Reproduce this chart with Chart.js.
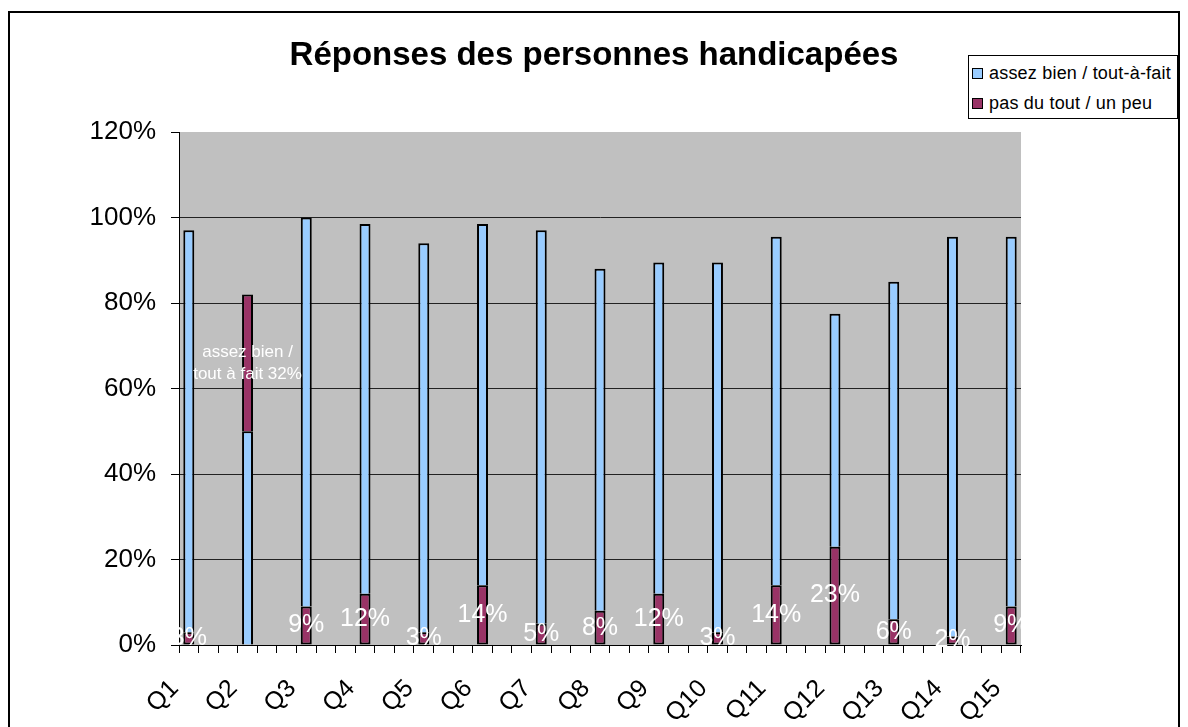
<!DOCTYPE html>
<html><head><meta charset="utf-8">
<script src="https://cdn.jsdelivr.net/npm/chart.js@4"></script>
<style>
html,body{margin:0;padding:0;background:#fff;overflow:hidden;}
#wrap{position:relative;width:1188px;height:727px;overflow:hidden;}
#frame{position:absolute;left:8px;top:11px;width:1172px;height:800px;border:2px solid #000;box-sizing:border-box;}
#c{position:absolute;left:0;top:0;}
#legend{position:absolute;left:968px;top:55px;width:210px;height:64px;border:1px solid #000;background:#fff;box-sizing:border-box;
  font-family:"Liberation Sans",Arial,sans-serif;font-size:18px;color:#000;}
#legend .row{position:absolute;left:3px;height:20px;line-height:20px;white-space:nowrap;letter-spacing:0.2px;}
#legend .sw{display:inline-block;width:9px;height:9px;border:1px solid #000;vertical-align:middle;margin-right:6px;position:relative;top:-1px;}
</style></head>
<body>
<div id="wrap">
  <div id="frame"></div>
  <canvas id="c" width="1188" height="727"></canvas>
  <div id="legend"></div>
</div>
<script>
// ---- data ----
const questions = ['Q1','Q2','Q3','Q4','Q5','Q6','Q7','Q8','Q9','Q10','Q11','Q12','Q13','Q14','Q15'];
const pasDuTout = [3, 0, 9, 12, 3, 14, 5, 8, 12, 3, 14, 23, 6, 2, 9];
const assezBien = [94, 50, 91, 86.5, 91, 84.5, 92, 80, 77.5, 86.5, 81.5, 54.5, 79, 93.5, 86.5];
const q2Extra = [null, 32, null, null, null, null, null, null, null, null, null, null, null, null, null];
const yTicks = [0, 20, 40, 60, 80, 100, 120];
const seriesNames = ['assez bien / tout-à-fait', 'pas du tout / un peu'];
const q2SeriesName = 'assez bien / tout à fait';
const titleText = 'Réponses des personnes handicapées';
const slotsPerQuestion = 3;

// ---- build category table (blank slots between questions) ----
const nSlots = (questions.length - 1) * slotsPerQuestion + 1;
const labels = [];
for (let i = 0; i < nSlots; i++) labels.push(i % slotsPerQuestion === 0 ? questions[i / slotsPerQuestion] : '');
function spread(arr) {
  const out = new Array(nSlots).fill(null);
  arr.forEach((v, k) => { out[k * slotsPerQuestion] = (v === 0 ? null : v); });
  return out;
}

const BLUE = '#99CCFF', MAROON = '#993366';
const FONT = '"Liberation Sans", Arial, sans-serif';

// legend (HTML)
const lg = document.getElementById('legend');
[[BLUE, seriesNames[0], 7], [MAROON, seriesNames[1], 37]].forEach(([c, t, top]) => {
  const r = document.createElement('div'); r.className = 'row'; r.style.top = top + 'px';
  const s = document.createElement('span'); s.className = 'sw'; s.style.background = c;
  r.appendChild(s); r.appendChild(document.createTextNode(t)); lg.appendChild(r);
});

const plotBg = {
  id: 'plotBg',
  beforeDraw(chart) {
    const {ctx, chartArea: a} = chart;
    ctx.save(); ctx.fillStyle = '#C0C0C0';
    ctx.fillRect(a.left, a.top, a.right - a.left, a.bottom - a.top); ctx.restore();
  }
};

const valueLabels = {
  id: 'valueLabels',
  afterDatasetsDraw(chart) {
    const ctx = chart.ctx;
    ctx.save();
    ctx.fillStyle = '#fff'; ctx.textAlign = 'center'; ctx.textBaseline = 'middle';
    ctx.font = '25px ' + FONT;
    const d0 = chart.data.datasets[0].data;
    chart.getDatasetMeta(0).data.forEach((bar, i) => {
      const v = d0[i]; if (!v) return;
      ctx.fillText(Math.round(v) + '%', bar.x, (bar.y + bar.base) / 2);
    });
    const d2 = chart.data.datasets[2].data;
    ctx.font = '17px ' + FONT;
    chart.getDatasetMeta(2).data.forEach((bar, i) => {
      const v = d2[i]; if (!v) return;
      const cy = (bar.y + bar.base) / 2;
      const words = q2SeriesName.split(' / ');
      ctx.fillText(words[0] + ' /', bar.x, cy - 11);
      ctx.fillText(words[1] + ' ' + Math.round(v) + '%', bar.x, cy + 11);
    });
    ctx.restore();
  }
};

new Chart(document.getElementById('c'), {
  type: 'bar',
  data: {
    labels: labels,
    datasets: [
      {label: seriesNames[1], data: spread(pasDuTout), backgroundColor: MAROON, borderColor: '#000', borderWidth: 2, borderSkipped: false},
      {label: seriesNames[0], data: spread(assezBien), backgroundColor: BLUE, borderColor: '#000', borderWidth: 2, borderSkipped: 'bottom'},
      {label: q2SeriesName, data: spread(q2Extra), backgroundColor: MAROON, borderColor: '#000', borderWidth: 2, borderSkipped: 'bottom'}
    ]
  },
  options: {
    responsive: false, animation: false,
    layout: {padding: {left: 0, right: 0, top: 0, bottom: 0}},
    datasets: {bar: {categoryPercentage: 1, barPercentage: 0.56}},
    plugins: {
      legend: {display: false}, tooltip: {enabled: false},
      title: {display: true, text: titleText, color: '#000',
        font: {family: FONT, size: 33, weight: 'bold', lineHeight: 1.2},
        padding: {top: 36, bottom: 56.4}}
    },
    scales: {
      x: {
        stacked: true, offset: true,
        grid: {display: true, drawOnChartArea: false, drawTicks: true, tickLength: 8, color: '#000', offset: true},
        border: {color: '#000', width: 1},
        ticks: {autoSkip: false, maxRotation: 45, minRotation: 45, color: '#000', font: {family: FONT, size: 25}, labelOffset: -14, padding: 21},
        afterFit(s) { s.height = 82; }
      },
      y: {
        stacked: true, min: 0, max: 120,
        afterBuildTicks(s) { s.ticks = yTicks.map(v => ({value: v})); },
        grid: {color: c => (c.tick && c.tick.value === 120 ? 'rgba(0,0,0,0)' : '#222'), tickColor: '#000', tickLength: 8, lineWidth: 1},
        border: {color: '#000', width: 1},
        ticks: {color: '#000', font: {family: FONT, size: 26}, padding: 15, callback: v => v + '%'},
        afterFit(s) { s.width = 179; }
      },
      yR: {
        position: 'right', display: true,
        grid: {display: false}, border: {display: false}, ticks: {display: false},
        afterFit(s) { s.width = 167; }
      }
    }
  },
  plugins: [plotBg, valueLabels]
});
</script>
</body></html>
